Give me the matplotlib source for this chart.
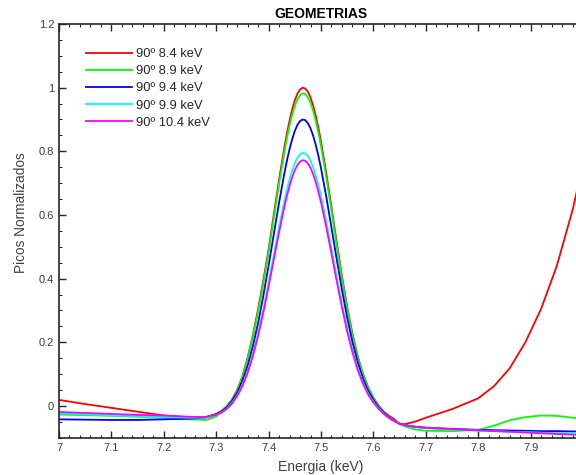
import matplotlib
matplotlib.use("Agg")
import matplotlib.pyplot as plt
from matplotlib.ticker import MultipleLocator, FuncFormatter

plt.rcParams['font.family'] = ['Liberation Sans', 'DejaVu Sans']

energy = [7.00, 7.05, 7.10, 7.15, 7.20, 7.25, 7.28,
          7.30, 7.31, 7.32, 7.33, 7.34, 7.35, 7.36, 7.37, 7.38, 7.39,
          7.40, 7.41, 7.42, 7.43, 7.435, 7.44, 7.445, 7.45, 7.455, 7.46, 7.465,
          7.47, 7.475, 7.48, 7.485, 7.49, 7.495,
          7.50, 7.51, 7.52, 7.53, 7.54, 7.55, 7.56, 7.57, 7.58, 7.59,
          7.60, 7.61, 7.62, 7.63, 7.64, 7.65, 7.66,
          7.68, 7.70, 7.75, 7.80, 7.83, 7.86, 7.89, 7.92, 7.95, 7.98, 8.00]

red = [0.019, 0.006, -0.006, -0.018, -0.030, -0.036, -0.035,
       -0.025, -0.015, -0.001, 0.020, 0.050, 0.093, 0.152, 0.222, 0.305, 0.395,
       0.492, 0.602, 0.711, 0.812, 0.857, 0.897, 0.932, 0.960, 0.981, 0.994, 1.000,
       0.997, 0.987, 0.969, 0.944, 0.912, 0.874,
       0.831, 0.732, 0.624, 0.514, 0.408, 0.311, 0.227, 0.157, 0.101, 0.058,
       0.026, 0.001, -0.018, -0.031, -0.042, -0.058, -0.057,
       -0.049, -0.037, -0.010, 0.024, 0.062, 0.118, 0.200, 0.305, 0.440, 0.615, 0.760]
green = [-0.027, -0.029, -0.031, -0.034, -0.037, -0.042, -0.044,
         -0.033, -0.016, -0.001, 0.019, 0.049, 0.091, 0.149, 0.218, 0.298, 0.385,
         0.483, 0.591, 0.698, 0.797, 0.842, 0.881, 0.915, 0.943, 0.963, 0.976, 0.982,
         0.980, 0.969, 0.952, 0.927, 0.895, 0.858,
         0.816, 0.719, 0.613, 0.504, 0.400, 0.305, 0.222, 0.154, 0.100, 0.058,
         0.025, 0.000, -0.020, -0.035, -0.047, -0.057, -0.064,
         -0.074, -0.078, -0.079, -0.075, -0.062, -0.045, -0.035, -0.030, -0.031, -0.037, -0.040]
blue = [-0.042, -0.043, -0.044, -0.044, -0.042, -0.040, -0.036,
        -0.026, -0.018, -0.005, 0.015, 0.042, 0.079, 0.127, 0.188, 0.261, 0.347,
        0.441, 0.540, 0.639, 0.730, 0.771, 0.807, 0.838, 0.864, 0.883, 0.895, 0.900,
        0.898, 0.888, 0.872, 0.849, 0.820, 0.786,
        0.747, 0.658, 0.560, 0.461, 0.365, 0.277, 0.201, 0.138, 0.087, 0.048,
        0.019, -0.004, -0.022, -0.036, -0.047, -0.055, -0.060,
        -0.065, -0.068, -0.072, -0.075, -0.076, -0.077, -0.078, -0.079, -0.079, -0.080, -0.080]
cyan = [-0.023, -0.026, -0.029, -0.032, -0.035, -0.037, -0.036,
        -0.028, -0.020, -0.009, 0.009, 0.033, 0.065, 0.108, 0.162, 0.228, 0.303,
        0.387, 0.475, 0.563, 0.644, 0.680, 0.712, 0.740, 0.763, 0.780, 0.790, 0.795,
        0.793, 0.785, 0.770, 0.750, 0.724, 0.694,
        0.659, 0.580, 0.493, 0.405, 0.320, 0.242, 0.174, 0.118, 0.073, 0.038,
        0.013, -0.008, -0.025, -0.038, -0.048, -0.056, -0.061,
        -0.067, -0.070, -0.074, -0.077, -0.079, -0.081, -0.082, -0.084, -0.085, -0.086, -0.087]
magenta = [-0.019, -0.022, -0.025, -0.028, -0.030, -0.034, -0.035,
           -0.028, -0.021, -0.009, 0.007, 0.031, 0.062, 0.104, 0.157, 0.220, 0.294,
           0.375, 0.461, 0.546, 0.625, 0.660, 0.692, 0.719, 0.741, 0.757, 0.768, 0.772,
           0.770, 0.762, 0.748, 0.728, 0.703, 0.673,
           0.640, 0.563, 0.478, 0.392, 0.310, 0.234, 0.169, 0.114, 0.070, 0.036,
           0.011, -0.009, -0.025, -0.038, -0.048, -0.056, -0.061,
           -0.066, -0.069, -0.073, -0.077, -0.079, -0.081, -0.083, -0.086, -0.088, -0.090, -0.092]

labels = ['90º 8.4 keV', '90º 8.9 keV', '90º 9.4 keV', '90º 9.9 keV', '90º 10.4 keV']
colors = ['#ff0000', '#00ff00', '#0000ff', '#00ffff', '#ff00ff']
series = [red, green, blue, cyan, magenta]

fig = plt.figure(figsize=(5.76, 4.75), dpi=100)
ax = fig.add_axes([59/576, 1 - 437.8/475, 524/576, (437.8 - 24)/475])

for ys, c, lab in zip(series, colors, labels):
    ax.plot(energy, ys, color=c, lw=1.3, label=lab)

ax.set_xlim(7, 8)
ax.set_ylim(-0.1, 1.2)
ax.xaxis.set_major_locator(MultipleLocator(0.1))
ax.xaxis.set_minor_locator(MultipleLocator(0.02))
ax.yaxis.set_major_locator(MultipleLocator(0.2))
ax.yaxis.set_minor_locator(MultipleLocator(0.05))
ax.xaxis.set_major_formatter(FuncFormatter(lambda v, p: '' if v > 7.95 else '%g' % round(v, 4)))
ax.yaxis.set_major_formatter(FuncFormatter(lambda v, p: '%g' % round(v, 4)))

txtc = '#404040'
ax.tick_params(which='both', direction='in', top=True, right=True, colors='#262626',
               labelcolor=txtc, labelsize=8)
ax.tick_params(which='major', length=5, width=1.0)
ax.tick_params(which='minor', length=2.5, width=0.8)
for s in ax.spines.values():
    s.set_linewidth(1.2)
    s.set_color('#262626')

ax.set_title('GEOMETRIAS', fontsize=10, fontweight='bold', color='#000000', pad=4)
ax.set_xlabel('Energia (keV)', fontsize=10, color=txtc, labelpad=5)
ax.set_ylabel('Picos Normalizados', fontsize=9.8, color=txtc)
ax.yaxis.set_label_coords(-0.059, 0.543)

leg = ax.legend(loc='upper left', bbox_to_anchor=(0.029, 0.970), frameon=False,
                fontsize=9.3, handlelength=3.56, handletextpad=0.31, labelspacing=0.4)
for t in leg.get_texts():
    t.set_color('#262626')

fig.savefig('out.png', dpi=100)
